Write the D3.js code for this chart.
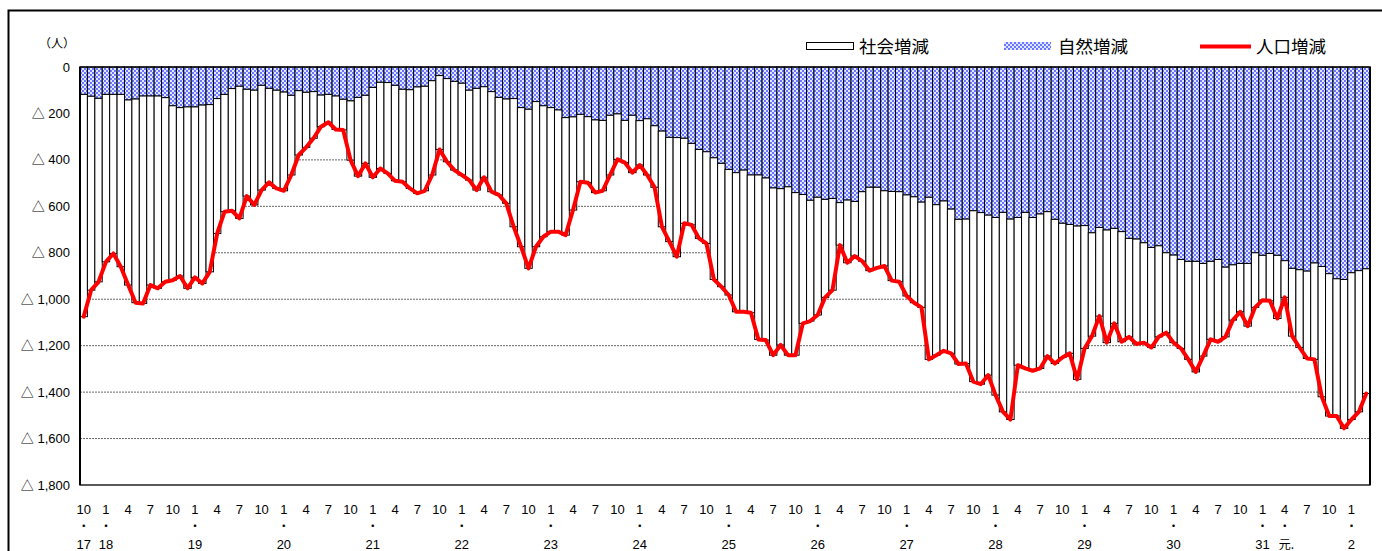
<!DOCTYPE html>
<html><head><meta charset="utf-8">
<script src="https://cdn.jsdelivr.net/npm/d3@7/dist/d3.min.js"></script>
<style>
body{margin:0;background:#fff;}
svg{display:block;}
</style>
</head><body>
<svg id="chart" width="1382" height="551"></svg>
<script>
// ---------------- DATA ----------------
const startYear = 2005, startMonth = 10, monthCount = 174;

// 自然増減 (natural change), persons
const naturalChange = [
-118,-126,-135,-118,-118,-118,-142,-138,-125,-125,-125,-132,-167,-175,-172,-172,-164,-162,-136,-118,-93,-83,
-96,-100,-79,-92,-100,-108,-122,-102,-109,-106,-121,-118,-125,-139,-146,-131,-122,-88,-66,-67,-79,
-96,-98,-86,-83,-59,-37,-50,-62,-70,-100,-92,-85,-106,-131,-138,-136,-175,-182,-149,-167,-175,-185,
-218,-215,-204,-214,-228,-230,-208,-202,-230,-208,-231,-223,-253,-276,-303,-304,-307,-329,-355,-365,-391,
-415,-441,-455,-444,-465,-465,-478,-521,-524,-516,-541,-549,-574,-561,-570,-566,-584,-573,-579,-537,-518,
-518,-533,-536,-537,-551,-559,-582,-561,-593,-577,-612,-656,-655,-619,-627,-638,-648,-626,-655,-648,-626,-648,
-633,-623,-656,-673,-678,-685,-683,-714,-691,-702,-695,-709,-738,-741,-757,-777,-770,-800,-810,-829,-837,-837,
-846,-837,-829,-862,-852,-846,-846,-800,-811,-803,-811,-834,-867,-873,-879,-844,-859,-890,-912,-915,-886,-877,-869
];

// 社会増減 (social change), persons
const socialChange = [
-957,-835,-790,-721,-685,-742,-797,-877,-893,-814,-828,-793,-751,-725,-781,-734,-768,-720,-581,-505,-526,-569,
-460,-494,-451,-405,-423,-425,-343,-277,-237,-201,-136,-120,-144,-132,-255,-339,-293,-387,-371,-391,-411,
-398,-425,-458,-450,-406,-318,-358,-382,-395,-387,-438,-390,-431,-420,-449,-552,-599,-685,-625,-564,-534,-524,
-506,-401,-290,-284,-313,-303,-257,-196,-182,-247,-191,-242,-265,-412,-449,-513,-366,-351,-383,-395,-524,
-531,-541,-599,-610,-593,-708,-698,-720,-673,-725,-700,-555,-520,-507,-422,-395,-183,-270,-235,-299,-359,
-347,-324,-384,-388,-435,-456,-453,-698,-648,-645,-621,-623,-622,-736,-739,-689,-765,-859,-863,-636,-672,-660,
-665,-622,-621,-578,-555,-660,-529,-445,-382,-485,-409,-474,-424,-452,-430,-431,-392,-344,-377,-383,-422,-476,
-399,-336,-354,-300,-238,-208,-270,-235,-193,-204,-272,-158,-292,-335,-376,-415,-561,-613,-591,-641,-632,-608,-537
];

// 人口増減 (total population change), persons
const populationChange = [
-1075,-961,-925,-839,-803,-860,-939,-1015,-1018,-939,-953,-925,-918,-900,-953,-906,-932,-882,-717,-623,-619,-652,
-556,-594,-530,-497,-523,-533,-465,-379,-346,-307,-257,-238,-269,-271,-401,-470,-415,-475,-437,-458,-490,
-494,-523,-544,-533,-465,-355,-408,-444,-465,-487,-530,-475,-537,-551,-587,-688,-774,-867,-774,-731,-709,-709,
-724,-616,-494,-498,-541,-533,-465,-398,-412,-455,-422,-465,-518,-688,-752,-817,-673,-680,-738,-760,-915,
-946,-982,-1054,-1054,-1058,-1173,-1176,-1241,-1197,-1241,-1241,-1104,-1094,-1068,-992,-961,-767,-843,-814,-836,-877,
-865,-857,-920,-925,-986,-1015,-1035,-1259,-1241,-1222,-1233,-1279,-1277,-1355,-1366,-1327,-1413,-1485,-1518,-1284,-1298,-1308,
-1298,-1245,-1277,-1251,-1233,-1345,-1212,-1159,-1073,-1187,-1104,-1183,-1162,-1193,-1187,-1208,-1162,-1144,-1187,-1212,-1259,-1313,
-1245,-1173,-1183,-1162,-1090,-1054,-1116,-1035,-1004,-1007,-1083,-992,-1159,-1208,-1255,-1259,-1420,-1503,-1503,-1556,-1518,-1485,-1406
];

// y-axis ticks
const yTicks = [0,-200,-400,-600,-800,-1000,-1200,-1400,-1600,-1800];
// month tick labels (shown every 3 months)
const monthTickMonths = [1,4,7,10];
// era year labels (under the month labels)
const eraYearLabels = [
  ["2005-10","17"],["2006-01","18"],["2007-01","19"],["2008-01","20"],["2009-01","21"],
  ["2010-01","22"],["2011-01","23"],["2012-01","24"],["2013-01","25"],["2014-01","26"],
  ["2015-01","27"],["2016-01","28"],["2017-01","29"],["2018-01","30"],["2019-01","31"],
  ["2019-04","元."],["2020-01","2"]
];
const legendItems = ["社会増減","自然増減","人口増減"];

// categories: year-month keys
const categories = d3.range(monthCount).map(i => {
  const t = startMonth - 1 + i;
  return (startYear + Math.floor(t/12)) + "-" + String(t%12 + 1).padStart(2,"0");
});

// ---------------- CHART ----------------
const svg = d3.select("#chart");
const X0 = 80, X1 = 1370, Y0 = 67, Y1 = 485;
const x = d3.scaleBand().domain(categories).range([X0, X1]).padding(0);
const y = d3.scaleLinear().domain([0, -1800]).range([Y0, Y1]);

const defs = svg.append("defs");
const pat = defs.append("pattern").attr("id","dots").attr("patternUnits","userSpaceOnUse")
  .attr("width",4).attr("height",4);
pat.append("rect").attr("width",4).attr("height",4).attr("fill","#e2e7ff");
pat.append("circle").attr("cx",1).attr("cy",1).attr("r",0.9).attr("fill","#2f40ff");
pat.append("circle").attr("cx",3).attr("cy",3).attr("r",0.9).attr("fill","#2f40ff");

// outer frame
svg.append("rect").attr("x",8.5).attr("y",10.5).attr("width",1500).attr("height",1000)
  .attr("fill","none").attr("stroke","#000").attr("stroke-width",2);

// gridlines
svg.append("g").selectAll("line").data(yTicks.filter(v => v < 0 && v > -1800)).join("line")
  .attr("x1",X0).attr("x2",X1).attr("y1",d=>y(d)).attr("y2",d=>y(d))
  .attr("stroke","#666").attr("stroke-width",1).attr("stroke-dasharray","2,1");

// bars
const bw = x.bandwidth();
const barsG = svg.append("g");
barsG.selectAll("rect.nat").data(categories).join("rect").attr("class","nat")
  .attr("x",d=>x(d)).attr("width",bw)
  .attr("y",y(0)).attr("height",(d,i)=>y(naturalChange[i]) - y(0))
  .attr("fill","url(#dots)").attr("stroke","#000").attr("stroke-width",1);
barsG.selectAll("rect.soc").data(categories).join("rect").attr("class","soc")
  .attr("x",d=>x(d)).attr("width",bw)
  .attr("y",(d,i)=>y(naturalChange[i]))
  .attr("height",(d,i)=>y(naturalChange[i] + socialChange[i]) - y(naturalChange[i]))
  .attr("fill","#fff").attr("stroke","#000").attr("stroke-width",1);

// plot border
svg.append("rect").attr("x",X0).attr("y",Y0).attr("width",X1-X0).attr("height",Y1-Y0)
  .attr("fill","none").attr("stroke","#000").attr("stroke-width",1.3);
svg.append("line").attr("x1",X0).attr("x2",X0).attr("y1",Y0).attr("y2",Y1)
  .attr("stroke","#000").attr("stroke-width",2);
svg.append("line").attr("x1",X1).attr("x2",X1).attr("y1",Y0).attr("y2",Y1)
  .attr("stroke","#000").attr("stroke-width",2);

// red line
const line = d3.line().x((d,i)=>x(categories[i]) + bw/2).y(d=>y(d));
svg.append("path").datum(populationChange).attr("d",line)
  .attr("fill","none").attr("stroke","#ff0000").attr("stroke-width",4)
  .attr("stroke-linejoin","round").attr("stroke-linecap","round");

// y axis labels
const fmt = d3.format(",");
svg.append("g").selectAll("text").data(yTicks).join("text")
  .attr("x",70).attr("y",d=>y(d)+4.5).attr("text-anchor","end")
  .attr("font-family","'Liberation Sans', Arial, 'Noto Sans CJK JP', sans-serif")
  .attr("font-size",13).attr("fill","#000")
  .text(d => d === 0 ? "0" : "△ " + fmt(-d));
svg.append("text").attr("x",75).attr("y",48).attr("text-anchor","end")
  .attr("font-family","'Noto Sans CJK JP', sans-serif").attr("font-size",12)
  .text("（人）");

// x axis labels
const xFont = "'Liberation Sans Narrow', 'Arial Narrow', 'Liberation Sans', sans-serif";
const tickCats = categories.filter(c => monthTickMonths.includes(+c.slice(5)));
svg.append("g").selectAll("text").data(tickCats).join("text")
  .attr("x",d=>x(d)+bw/2).attr("y",514).attr("text-anchor","middle")
  .attr("font-family",xFont).attr("font-size",13).text(d => String(+d.slice(5)));
svg.append("g").selectAll("text").data(eraYearLabels).join("text")
  .attr("x",d=>x(d[0])+bw/2).attr("y",531).attr("text-anchor","middle")
  .attr("font-family","'Noto Sans CJK JP', sans-serif").attr("font-size",12).text("・");
svg.append("g").selectAll("text").data(eraYearLabels).join("text")
  .attr("x",d=>x(d[0])+bw/2 - (d[1]==="元." ? 6 : 0)).attr("y",549)
  .attr("text-anchor",d => d[1]==="元." ? "start" : "middle")
  .attr("font-family",d => d[1]==="元." ? "'Noto Sans CJK JP', sans-serif" : xFont)
  .attr("font-size",d => d[1]==="元." ? 12 : 13).text(d => d[1]);

// legend
const lg = svg.append("g");
const lFont = "'Noto Sans CJK JP', sans-serif";
lg.append("rect").attr("x",806.5).attr("y",42.5).attr("width",47).attr("height",7)
  .attr("fill","#fff").attr("stroke","#000").attr("stroke-width",1);
lg.append("text").attr("x",859).attr("y",53).attr("font-family",lFont).attr("font-size",17.5).text(legendItems[0]);
lg.append("rect").attr("x",1004).attr("y",42).attr("width",47).attr("height",8)
  .attr("fill","url(#dots)");
lg.append("text").attr("x",1058).attr("y",53).attr("font-family",lFont).attr("font-size",17.5).text(legendItems[1]);
lg.append("line").attr("x1",1200).attr("x2",1251).attr("y1",46.5).attr("y2",46.5)
  .attr("stroke","#ff0000").attr("stroke-width",4);
lg.append("text").attr("x",1256).attr("y",53).attr("font-family",lFont).attr("font-size",17.5).text(legendItems[2]);
</script>
</body></html>
